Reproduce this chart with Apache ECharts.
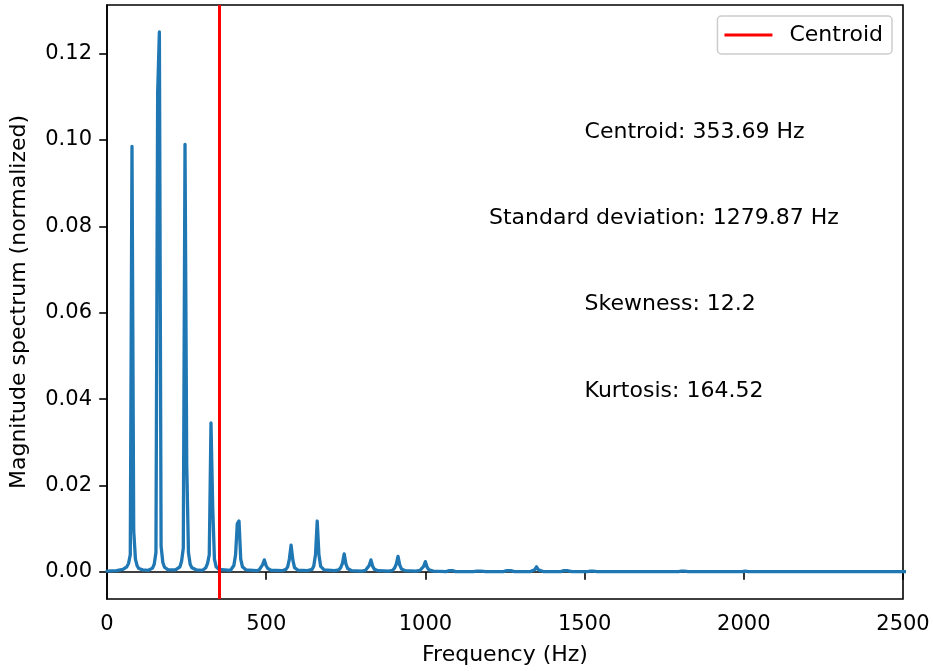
<!DOCTYPE html>
<html>
<head>
<meta charset="utf-8">
<script src="https://cdn.jsdelivr.net/npm/echarts@6/dist/echarts.min.js"></script>
<style>
  html, body { margin: 0; padding: 0; background: #fff; }
  #chart { width: 933px; height: 671px; }
</style>
</head>
<body>
<div id="chart"></div>
<script>
// spectrum, peak by peak (Hz, normalized magnitude)
const freqHz = [
  0, 30, 50, 62.3, 67.7, 73.1, 78.5, 83.9, 89.3, 94.7, 100.1, 112,
  130, 142.9, 148.3, 153.7, 159.1, 164.5, 169.9, 175.3, 180.7, 192,
  215, 229, 234.2, 239.6, 245, 250.4, 255.8, 261.2, 266.6, 280,
  300, 310.4, 315.8, 321.2, 326.6, 332.0, 337.4, 342.8, 352,
  388, 398.4, 403.8, 409.2, 414.6, 420, 425.4, 436,
  470, 478, 483.4, 488.8, 494.2, 499.6, 505, 515,
  550, 562, 567.4, 572.8, 578.2, 583.6, 589, 600,
  630, 644, 649.4, 654.8, 660.2, 665.6, 671, 682,
  715, 728, 734, 739.5, 745, 750.5, 756, 768,
  800, 812, 818, 823.5, 829, 834.5, 840, 852,
  885, 897, 903, 908.5, 914, 919.5, 925, 937,
  970, 983, 989, 994.5, 1000, 1005.5, 1011, 1025,
  1065, 1075, 1080, 1085, 1095,
  1150, 1162, 1168, 1174, 1190,
  1245, 1256, 1262, 1268, 1280,
  1330, 1343, 1349, 1355, 1370,
  1425, 1435, 1440, 1445, 1460,
  1510, 1517, 1522, 1527, 1540,
  1795, 1804, 1809, 1814, 1825,
  1995, 2004, 2015,
  2500, 2600
];
const magnitude = [
  0.0002, 0.0003, 0.0006, 0.0012, 0.0020, 0.0040, 0.0985, 0.0095, 0.0030, 0.0014, 0.0008, 0.0005,
  0.0004, 0.0009, 0.0018, 0.0045, 0.111, 0.125, 0.0060, 0.0022, 0.0011, 0.0005,
  0.0005, 0.0012, 0.0025, 0.0055, 0.099, 0.025, 0.0045, 0.0018, 0.0010, 0.0005,
  0.0004, 0.0010, 0.0020, 0.0040, 0.0345, 0.0150, 0.0030, 0.0012, 0.0006,
  0.0004, 0.0015, 0.0040, 0.0112, 0.0118, 0.0030, 0.0012, 0.0005,
  0.0003, 0.0005, 0.0009, 0.0017, 0.0028, 0.0015, 0.0008, 0.0004,
  0.0003, 0.0006, 0.0012, 0.0030, 0.0062, 0.0028, 0.0010, 0.0004,
  0.0003, 0.0006, 0.0014, 0.0040, 0.0118, 0.0040, 0.0013, 0.0005,
  0.0003, 0.0005, 0.0010, 0.0020, 0.0042, 0.0018, 0.0008, 0.0003,
  0.0002, 0.0004, 0.0008, 0.0015, 0.0028, 0.0013, 0.0006, 0.0003,
  0.0002, 0.0004, 0.0009, 0.0018, 0.0036, 0.0016, 0.0007, 0.0003,
  0.0002, 0.0004, 0.0007, 0.0013, 0.0024, 0.0011, 0.0005, 0.0002,
  0.0001, 0.0003, 0.0006, 0.0003, 0.0001,
  0.0001, 0.0002, 0.0004, 0.0002, 0.0001,
  0.0001, 0.0003, 0.0006, 0.0003, 0.0001,
  0.0001, 0.0005, 0.0012, 0.0005, 0.0001,
  0.0001, 0.0003, 0.0006, 0.0003, 0.0001,
  0.0001, 0.0002, 0.0003, 0.0002, 0.0001,
  0.0001, 0.0002, 0.0003, 0.0002, 0.0001,
  0.0001, 0.0002, 0.0001,
  0.0001, 0.0001
];

const centroidHz = 353.69;

const statText = ['Centroid: 353.69 Hz', 'Standard deviation: 1279.87 Hz', 'Skewness: 12.2', 'Kurtosis: 164.52'];
const statX = [1500, 1200, 1500, 1500];
const statY = [0.10, 0.08, 0.06, 0.04];

const xTicks = [0, 500, 1000, 1500, 2000, 2500];
const yTicks = [0, 0.02, 0.04, 0.06, 0.08, 0.10, 0.12];

let chartDom = document.getElementById('chart');
let myChart = echarts.init(chartDom, null, {renderer: 'canvas'});
const font = 'DejaVu Sans';

let option = {
  animation: false,
  grid: {
    left: 107, right: 30, top: 5, bottom: 72,
    show: true, borderColor: '#000', borderWidth: 1.6, backgroundColor: 'transparent'
  },
  legend: {
    data: [{name: 'Centroid', icon: 'rect'}],
    right: 41, top: 16,
    itemWidth: 48, itemHeight: 3,
    padding: [8, 9, 8, 7],
    borderColor: '#cccccc', borderWidth: 1.5, borderRadius: 4,
    backgroundColor: 'rgba(255,255,255,0.8)',
    textStyle: {fontFamily: font, fontSize: 22, color: '#000', padding: [0, 0, 0, 12]}
  },
  xAxis: {
    type: 'value', min: 0, max: 2500,
    name: 'Frequency (Hz)', nameLocation: 'middle', nameGap: 45,
    nameTextStyle: {fontFamily: font, fontSize: 22, color: '#000'},
    axisLine: {lineStyle: {color: '#000', width: 1.6}},
    axisTick: {customValues: xTicks, length: 7.8, inside: false, lineStyle: {color: '#000', width: 1.6}},
    axisLabel: {
      customValues: xTicks, margin: 15, fontFamily: font, fontSize: 21, color: '#000',
      formatter: v => String(v)
    },
    splitLine: {show: false}
  },
  yAxis: {
    type: 'value', min: -0.00625, max: 0.13125,
    name: 'Magnitude spectrum (normalized)', nameLocation: 'middle', nameGap: 77,
    nameTextStyle: {fontFamily: font, fontSize: 22, color: '#000'},
    axisLine: {show: true, lineStyle: {color: '#000', width: 1.6}},
    axisTick: {show: true, customValues: yTicks, length: 7.8, inside: false, lineStyle: {color: '#000', width: 1.6}},
    axisLabel: {
      customValues: yTicks, margin: 15, fontFamily: font, fontSize: 21, color: '#000',
      formatter: v => v.toFixed(2)
    },
    splitLine: {show: false}
  },
  series: [
    {
      name: 'Spectrum',
      type: 'line',
      data: freqHz.map((f, i) => [f, magnitude[i]]),
      showSymbol: false,
      color: '#1f77b4',
      lineStyle: {width: 3.3, color: '#1f77b4', join: 'round', cap: 'round'},
      clip: true,
      z: 2
    },
    {
      name: 'Centroid',
      type: 'line',
      data: [],
      color: '#ff0000',
      lineStyle: {color: '#ff0000', width: 3},
      markLine: {
        silent: true, symbol: 'none',
        label: {show: false},
        lineStyle: {color: '#ff0000', width: 3, type: 'solid'},
        data: [{xAxis: centroidHz}]
      },
      z: 3
    },
    {
      name: 'stats',
      type: 'scatter',
      data: statText.map((t, i) => [statX[i], statY[i], t]),
      symbolSize: 0.1,
      itemStyle: {color: '#000', opacity: 1},
      silent: true,
      label: {
        show: true, position: [0, 0], align: 'left', verticalAlign: 'middle',
        offset: [0, -8], opacity: 1,
        formatter: p => p.data[2],
        fontFamily: font, fontSize: 22, color: '#000000', textBorderWidth: 0
      },
      z: 4
    }
  ]
};

option && myChart.setOption(option);
</script>
</body>
</html>
